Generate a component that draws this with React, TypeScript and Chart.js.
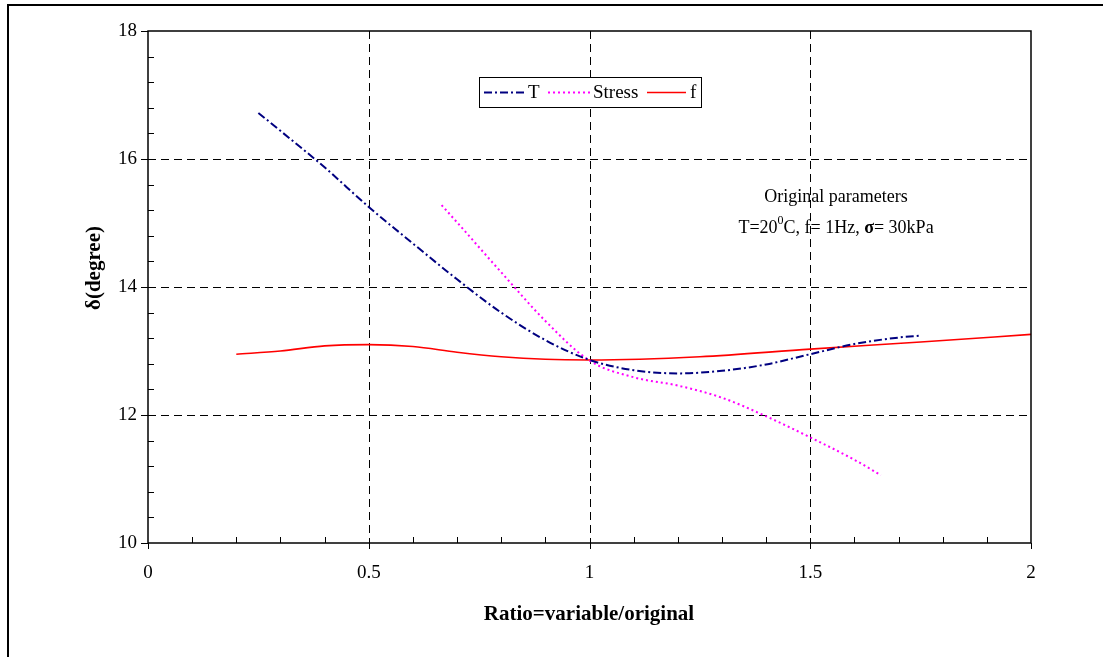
import React, { useEffect, useRef } from "react";
import { Chart, registerables } from "chart.js";
Chart.register(...registerables);

const tX = [0.25, 0.3, 0.4, 0.5, 0.6, 0.7, 0.8, 0.9, 1.0, 1.1, 1.2, 1.3, 1.4, 1.5, 1.6, 1.7, 1.75];
const tY = [16.72, 16.44, 15.87, 15.25, 14.68, 14.12, 13.6, 13.17, 12.86, 12.7, 12.65, 12.69, 12.79, 12.95, 13.11, 13.21, 13.24];
const stressX = [0.665, 0.7, 0.8, 0.9, 1.0, 1.1, 1.2, 1.3, 1.4, 1.5, 1.6, 1.66];
const stressY = [15.28, 15.01, 14.23, 13.47, 12.85, 12.59, 12.46, 12.27, 11.98, 11.65, 11.3, 11.06];
const fX = [0.2, 0.3, 0.4, 0.5, 0.6, 0.7, 0.8, 0.9, 1.0, 1.25, 1.5, 1.75, 2.0];
const fY = [12.95, 13.0, 13.08, 13.1, 13.07, 12.98, 12.91, 12.87, 12.86, 12.91, 13.03, 13.14, 13.26];

const seriesNames = ["T", "Stress", "f"];
const xMajor = [0, 0.5, 1, 1.5, 2];
const yMajor = [10, 12, 14, 16, 18];
const xTitle = "Ratio=variable/original";
const yTitle = "δ(degree)";
const noteLine1 = "Original parameters";

const FONT = '"Liberation Serif", "Times New Roman", serif';
const colors = ["#000080", "#FF00FF", "#FF0000"];
const dashes = [[8, 3, 2, 3], [2, 3], []];
const widths = [2, 2, 1.6];

const toPts = (xs: number[], ys: number[]) => xs.map((x, i) => ({ x, y: ys[i] }));

const decor = {
  id: "decor",
  beforeDatasetsDraw(chart: any) {
    const { ctx, chartArea: a, scales } = chart;
    const x = scales.x, y = scales.y;
    ctx.save();
    ctx.strokeStyle = "#000";
    ctx.lineWidth = 1;
    ctx.setLineDash([8, 5]);
    xMajor.slice(1, -1).forEach((v) => {
      const px = Math.round(x.getPixelForValue(v)) + 0.5;
      ctx.beginPath(); ctx.moveTo(px, a.top); ctx.lineTo(px, a.bottom); ctx.stroke();
    });
    yMajor.slice(1, -1).forEach((v) => {
      const py = Math.round(y.getPixelForValue(v)) + 0.5;
      ctx.beginPath(); ctx.moveTo(a.left, py); ctx.lineTo(a.right, py); ctx.stroke();
    });
    ctx.restore();
  },
  afterDatasetsDraw(chart: any) {
    const { ctx, chartArea: a, scales } = chart;
    const x = scales.x, y = scales.y;
    ctx.save();
    ctx.setLineDash([]);
    ctx.strokeStyle = "#000";
    ctx.lineWidth = 1.5;
    ctx.strokeRect(a.left, a.top, a.right - a.left, a.bottom - a.top);
    ctx.lineWidth = 1;
    for (let i = 0; i <= 20; i++) {
      const v = i / 10;
      const px = Math.round(x.getPixelForValue(v)) + 0.5;
      ctx.beginPath();
      if (i % 5 === 0) { ctx.moveTo(px, a.bottom); ctx.lineTo(px, a.bottom + 6); }
      else { ctx.moveTo(px, a.bottom); ctx.lineTo(px, a.bottom - 6); }
      ctx.stroke();
    }
    for (let i = 0; i <= 20; i++) {
      const v = 10 + i * 0.4;
      const py = Math.round(y.getPixelForValue(v)) + 0.5;
      ctx.beginPath();
      if (i % 5 === 0) { ctx.moveTo(a.left - 7, py); ctx.lineTo(a.left, py); }
      else { ctx.moveTo(a.left, py); ctx.lineTo(a.left + 6, py); }
      ctx.stroke();
    }
    // legend
    const lx = 479.5, ly = 77.5, lw = 222, lh = 30;
    ctx.fillStyle = "#fff";
    ctx.fillRect(lx, ly, lw, lh);
    ctx.strokeStyle = "#000";
    ctx.lineWidth = 1;
    ctx.strokeRect(lx, ly, lw, lh);
    const my = ly + lh / 2;
    const samples = [[484, 525, 528], [548, 590, 593], [647, 686, 690]];
    ctx.font = `19px ${FONT}`;
    ctx.textBaseline = "middle";
    ctx.textAlign = "left";
    samples.forEach((s, i) => {
      ctx.strokeStyle = colors[i];
      ctx.lineWidth = widths[i];
      ctx.setLineDash(dashes[i]);
      ctx.beginPath(); ctx.moveTo(s[0], my); ctx.lineTo(s[1], my); ctx.stroke();
      ctx.fillStyle = "#000";
      ctx.fillText(seriesNames[i], s[2], my + 1);
    });
    ctx.setLineDash([]);
    // annotation
    ctx.fillStyle = "#000";
    ctx.textAlign = "center";
    ctx.font = `18px ${FONT}`;
    ctx.fillText(noteLine1, 836, 197);
    const parts: [string, string, number][] = [
      ["T=20", `18px ${FONT}`, 0],
      ["0", `12px ${FONT}`, -7],
      ["C, f= 1Hz, ", `18px ${FONT}`, 0],
      ["σ", `bold 18px ${FONT}`, 0],
      ["= 30kPa", `18px ${FONT}`, 0],
    ];
    let total = 0;
    parts.forEach((p) => { ctx.font = p[1]; total += ctx.measureText(p[0]).width; });
    let cx = 836 - total / 2;
    ctx.textAlign = "left";
    parts.forEach((p) => {
      ctx.font = p[1];
      ctx.fillText(p[0], cx, 228 + p[2]);
      cx += ctx.measureText(p[0]).width;
    });
    // axis titles
    ctx.font = `bold 21px ${FONT}`;
    ctx.textAlign = "center";
    ctx.fillText(xTitle, 589, 615);
    ctx.translate(95, 268);
    ctx.rotate(-Math.PI / 2);
    ctx.fillText(yTitle, 0, 0);
    ctx.restore();
  },
};

export default function App() {
  const ref = useRef<HTMLCanvasElement | null>(null);
  useEffect(() => {
    if (!ref.current) return;
    const chart = new Chart(ref.current, {
      type: "line",
      data: {
        datasets: [
          { label: seriesNames[0], data: toPts(tX, tY) },
          { label: seriesNames[1], data: toPts(stressX, stressY) },
          { label: seriesNames[2], data: toPts(fX, fY) },
        ].map((d, i) => ({
          ...d,
          borderColor: colors[i],
          borderWidth: widths[i],
          borderDash: dashes[i],
          pointRadius: 0,
          fill: false,
          cubicInterpolationMode: "monotone" as const,
        })),
      },
      options: {
        animation: false,
        responsive: false,
        layout: { padding: { top: 31, right: 72, left: 0, bottom: 0 } },
        plugins: { legend: { display: false }, tooltip: { enabled: false } },
        scales: {
          x: {
            type: "linear",
            min: 0,
            max: 2,
            afterFit: (s: any) => { s.height = 114; },
            grid: { display: false, drawTicks: false },
            border: { display: false },
            ticks: {
              stepSize: 0.5,
              padding: 19,
              color: "#000",
              font: { family: FONT, size: 19 },
              maxRotation: 0,
              callback: (v: any) => String(Number(v)),
            },
          },
          y: {
            min: 10,
            max: 18,
            afterFit: (s: any) => { s.width = 148; },
            grid: { display: false, drawTicks: false },
            border: { display: false },
            ticks: { stepSize: 2, padding: 11, color: "#000", font: { family: FONT, size: 19 } },
          },
        },
      },
      plugins: [decor],
    });
    return () => chart.destroy();
  }, []);
  return (
    <div style={{ position: "fixed", left: 0, top: 0, width: 1103, height: 657, overflow: "hidden", background: "#fff" }}>
      <div style={{ position: "absolute", left: 7, top: 4, width: 1300, height: 900, border: "2px solid #000" }} />
      <canvas ref={ref} width={1103} height={657} style={{ position: "absolute", left: 0, top: 0, width: 1103, height: 657 }} />
    </div>
  );
}
